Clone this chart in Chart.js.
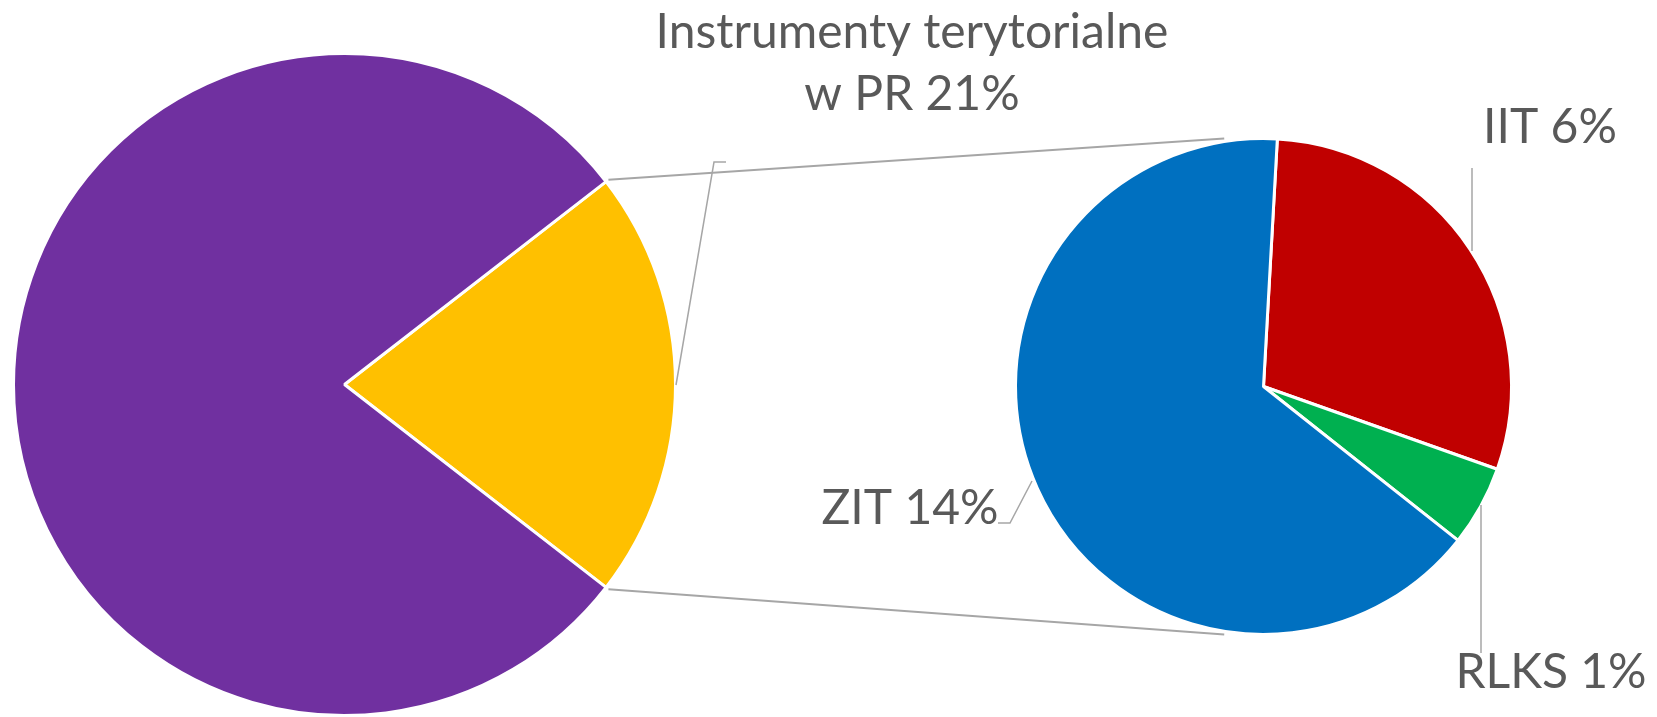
<!DOCTYPE html>
<html>
<head>
<meta charset="utf-8">
<script src="https://cdn.jsdelivr.net/npm/chart.js@4"></script>
<style>
  html, body { margin: 0; padding: 0; background: #fff; }
  #wrap { position: relative; width: 1657px; height: 717px; overflow: hidden; }
  #wrap canvas { position: absolute; left: 0; top: 0; }
</style>
</head>
<body>
<div id="wrap">
  <canvas id="mainPie" width="1657" height="717"></canvas>
  <canvas id="subPie" width="1657" height="717"></canvas>
</div>
<script>
// main pie: share of territorial instruments in the programme
const mainLabels = ['Instrumenty terytorialne w PR', 'Pozostałe'];
const mainValues = [21, 79];
const mainColors = ['#FFC000', '#7030A0'];

// second pie: split of the 21%
const subLabels = ['IIT', 'RLKS', 'ZIT'];
const subValues = [6.2, 1.1, 13.7];
const subColors = ['#C00000', '#00B050', '#0070C0'];

const textColor = '#595959';
const leaderColor = '#A6A6A6';
const labelFont = '48px Lato';

// label placement (text anchor + leader polyline), index into subLabels / main slice
const subLabelLayout = [
    { x: 1550, y: 143, leader: [[1472, 251], [1472, 168]] },
    { x: 1551, y: 688, leader: [[1481, 505], [1481, 653]] },
    { x: 910, y: 524, leader: [[1032, 481], [1010, 523], [998, 523]] }
];
const mainLabelLayout = { x: 912, y: 48, lineGap: 62, leader: [[676, 385], [714, 162], [726, 162]] };

function pct(v, total) {
    return Math.round(v / total * 100) + '%';
}

const mainTotal = mainValues.reduce((a, b) => a + b, 0);

const mainChart = new Chart(document.getElementById('mainPie'), {
    type: 'pie',
    data: {
        labels: mainLabels,
        datasets: [{
            data: mainValues,
            backgroundColor: mainColors,
            borderColor: '#ffffff',
            borderWidth: 3
        }]
    },
    options: {
        responsive: false,
        animation: false,
        events: [],
        // first slice centred on 3 o'clock
        rotation: 90 - mainValues[0] / mainTotal * 180,
        layout: { padding: { left: 12, top: 52, right: 980, bottom: 0 } },
        plugins: { legend: { display: false }, tooltip: { enabled: false } }
    }
});

const overlayPlugin = {
    id: 'pieOfPie',
    afterDraw(chart) {
        const ctx = chart.ctx;
        const big = mainChart.getDatasetMeta(0).data[0];
        const subArcs = chart.getDatasetMeta(0).data;
        const sc = subArcs[0];
        const R = big.outerRadius, r = sc.outerRadius;

        ctx.save();
        // connector lines from the yellow slice to the second pie
        ctx.strokeStyle = leaderColor;
        ctx.lineWidth = 2;
        const off = 9 * Math.PI / 180;
        const pairs = [
            [big.startAngle, -Math.PI / 2 - off],
            [big.endAngle, Math.PI / 2 + off]
        ];
        pairs.forEach(([a1, a2]) => {
            ctx.beginPath();
            ctx.moveTo(big.x + (R + 3) * Math.cos(a1), big.y + (R + 3) * Math.sin(a1));
            ctx.lineTo(sc.x + (r + 3) * Math.cos(a2), sc.y + (r + 3) * Math.sin(a2));
            ctx.stroke();
        });

        // leader lines
        ctx.lineWidth = 1.5;
        const drawLeader = pts => {
            ctx.beginPath();
            pts.forEach((p, i) => i ? ctx.lineTo(p[0], p[1]) : ctx.moveTo(p[0], p[1]));
            ctx.stroke();
        };
        drawLeader(mainLabelLayout.leader);
        subLabelLayout.forEach(l => drawLeader(l.leader));

        // labels
        ctx.fillStyle = textColor;
        ctx.font = labelFont;
        ctx.textAlign = 'center';
        ctx.textBaseline = 'alphabetic';
        ctx.fillText('Instrumenty terytorialne', mainLabelLayout.x, mainLabelLayout.y);
        ctx.fillText('w PR ' + pct(mainValues[0], mainTotal), mainLabelLayout.x, mainLabelLayout.y + mainLabelLayout.lineGap);
        subLabels.forEach((lab, i) => {
            const l = subLabelLayout[i];
            ctx.fillText(lab + ' ' + pct(subValues[i], mainTotal), l.x, l.y);
        });
        ctx.restore();
    }
};

new Chart(document.getElementById('subPie'), {
    type: 'pie',
    data: {
        labels: subLabels,
        datasets: [{
            data: subValues,
            backgroundColor: subColors,
            borderColor: '#ffffff',
            borderWidth: 3
        }]
    },
    options: {
        responsive: false,
        animation: false,
        events: [],
        rotation: 3.2,
        layout: { padding: { left: 1014, top: 137, right: 144, bottom: 81 } },
        plugins: { legend: { display: false }, tooltip: { enabled: false } }
    },
    plugins: [overlayPlugin]
});
</script>
</body>
</html>
